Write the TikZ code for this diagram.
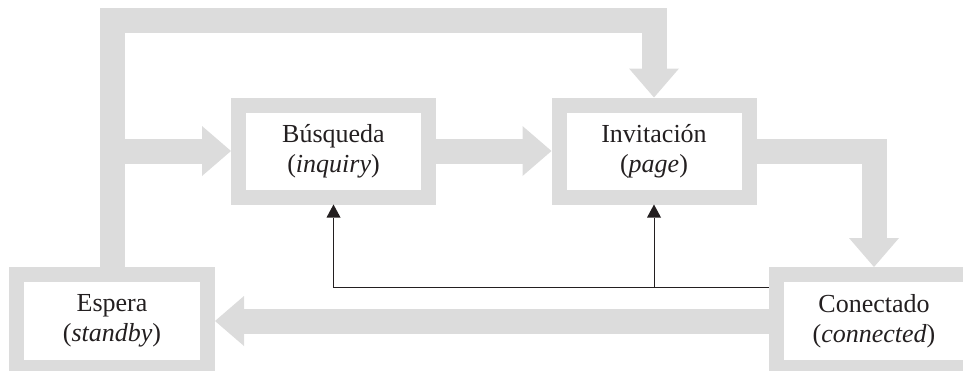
\documentclass[tikz,border=0pt]{standalone}
\usepackage{fontspec}
\setmainfont{Liberation Serif}
\usetikzlibrary{arrows.meta}
\definecolor{band}{RGB}{220,220,220}
\definecolor{ink}{RGB}{35,31,32}
\begin{document}
\begin{tikzpicture}[x=1pt,y=-1pt,
  state/.style={draw=band, line width=15pt, fill=white, inner sep=0pt,
    align=center, text=ink, font=\fontsize{26}{30}\selectfont},
  fat/.style={draw=band, line width=25pt, line join=miter,
    -{Triangle[width=50pt,length=29pt,line width=0pt]}},
  signal/.style={draw=ink, line width=1pt,
    -{Triangle[width=14pt,length=13pt,line width=0pt]}}]
  \useasboundingbox (0,0) rectangle (963,370);
  \clip (0,0) rectangle (963,370);

  % states
  \node[state, minimum width=190pt, minimum height=92pt] (busq) at (333.5,151)
    {Búsqueda\\(\textit{inquiry})};
  \node[state, minimum width=190pt, minimum height=92pt] (invit) at (654,151)
    {Invitación\\(\textit{page})};
  \node[state, minimum width=191pt, minimum height=93pt] (espera) at (112,321)
    {Espera\\(\textit{standby})};
  \node[state, minimum width=196pt, minimum height=93pt] (conect) at (874,321)
    {Conectado\\(\textit{connected})};

  % helper levels
  \coordinate (top) at (0,20);
  \coordinate (bus) at (0,287);

  % wide transitions
  \draw[fat] (espera.north) -- (espera.north |- top) -- (invit.north |- top) -- (invit.north);
  \draw[fat] (espera.north |- busq.west) -- (busq.west);
  \draw[fat] (busq.east) -- (invit.west);
  \draw[fat] (invit.east) -| (conect.north);
  \draw[fat] (conect.west) -- (espera.east);

  % thin return lines
  \draw[signal] (conect.west |- bus) -| (busq.south);
  \draw[signal] (invit.south |- bus) -- (invit.south);
\end{tikzpicture}
\end{document}
